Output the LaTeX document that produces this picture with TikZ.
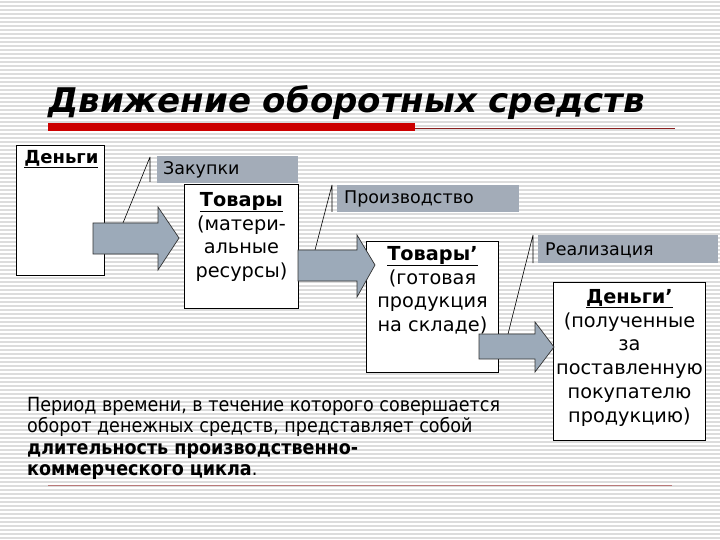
\documentclass[tikz,border=0pt]{standalone}
\usepackage{fontspec}
\setmainfont{DejaVu Sans}
\newfontfamily\condfont{DejaVu Sans Condensed}
\usetikzlibrary{calc}
\definecolor{stripeC}{HTML}{DCDCDC}
\definecolor{barC}{HTML}{A3ACB8}
\definecolor{arrowC}{HTML}{9CAAB9}
\definecolor{redC}{HTML}{CC0000}
\definecolor{lineC}{HTML}{8B2020}
\tikzset{
  box/.style={draw=black, line width=0.9pt, fill=white, inner sep=0pt, anchor=north west},
  barbox/.style={fill=barC, inner sep=0pt, anchor=north west},
  lbl/.style={anchor=west, inner sep=0pt, font=\fontsize{17.5}{20}\selectfont},
  boxtext/.style={anchor=north, inner sep=0pt, align=center, font=\fontsize{19.3}{23.8}\selectfont},
  blockarrow/.style={draw=black!80, line width=0.7pt, fill=arrowC, line join=miter},
  leader/.style={draw=black, line width=0.6pt},
}
\begin{document}
\begin{tikzpicture}[x=1pt,y=-1pt]
\useasboundingbox (0,0) rectangle (720,540);
\fill[white] (0,0) rectangle (720,540);
\foreach \yy in {1,5,...,537} \fill[stripeC] (0,\yy) rectangle (720,\yy+1.6);
% title
\node[anchor=base west, inner sep=0pt, font=\fontsize{34}{40}\selectfont\bfseries\itshape] (title) at (48,113) {Движение оборотных средств};
\fill[redC] (48,123) rectangle (415,131);
\draw[lineC, line width=0.8pt] (415,128) -- (675,128);
% boxes
\node[box, minimum width=88pt, minimum height=130pt] (money) at (16,145) {};
\node[anchor=north, inner sep=0pt, font=\fontsize{18}{20}\selectfont\bfseries] (moneyt) at ($(money.north)+(1,5)$) {\underline{Деньги}};
\node[barbox, minimum width=141pt, minimum height=27pt] (bar1) at (157,156) {};
\node[lbl] (bar1t) at (163,170) {Закупки};
\node[box, minimum width=114pt, minimum height=124pt] (goods) at (184,184) {};
\node[boxtext] (goodst) at ($(goods.north)+(0,8)$) {\textbf{\underline{Товары}}\\(матери-\\альные\\ресурсы)};
\node[barbox, minimum width=182pt, minimum height=27pt] (bar2) at (337,185) {};
\node[lbl] (bar2t) at (344,199) {Производство};
\node[box, minimum width=132pt, minimum height=131pt] (goods2) at (366,241) {};
\node[boxtext] (goods2t) at ($(goods2.north)+(0,5)$) {\textbf{\underline{Товары’}}\\(готовая\\продукция\\на складе)};
\node[barbox, minimum width=180pt, minimum height=28pt] (bar3) at (538,235) {};
\node[lbl] (bar3t) at (545,250) {Реализация};
\node[box, minimum width=152pt, minimum height=158pt] (money2) at (553,282) {};
\node[boxtext] (money2t) at ($(money2.north)+(0,7)$) {\textbf{\underline{Деньги’}}\\(полученные\\за\\поставленную\\покупателю\\продукцию)};
% callout ticks and leaders
\coordinate (t1a) at (150,157); \coordinate (t1b) at (150,182);
\coordinate (t2a) at (332,185); \coordinate (t2b) at (332,212);
\coordinate (t3a) at (533,235); \coordinate (t3b) at (533,263);
\coordinate (p1) at (123,223); \coordinate (p2) at (315,250); \coordinate (p3) at (508,334);
\draw[leader] (t1a) -- (t1b) (t1a) -- (p1);
\draw[leader] (t2a) -- (t2b) (t2a) -- (p2);
\draw[leader] (t3a) -- (t3b) (t3a) -- (p3);
% block arrows
\draw[blockarrow] (93,223) -- (158,223) -- (158,207) -- (179,238) -- (158,270) -- (158,254) -- (93,254) -- cycle;
\draw[blockarrow] (298,250) -- (357,250) -- (357,235) -- (375,265) -- (357,297) -- (357,281) -- (298,281) -- cycle;
\draw[blockarrow] (479,334) -- (535,334) -- (535,322) -- (554,347) -- (535,372) -- (535,359) -- (479,359) -- cycle;
% bottom text
\node[anchor=north west, inner sep=0pt, align=left, font=\fontsize{19.5}{21.5}\selectfont\condfont] (note) at (27,397)
 {Период времени, в течение которого совершается\\оборот денежных средств, представляет собой\\\textbf{длительность производственно-}\\\textbf{коммерческого цикла}.};
\draw[lineC!60, line width=0.8pt] (48,485) -- (672,485);
\end{tikzpicture}
\end{document}
